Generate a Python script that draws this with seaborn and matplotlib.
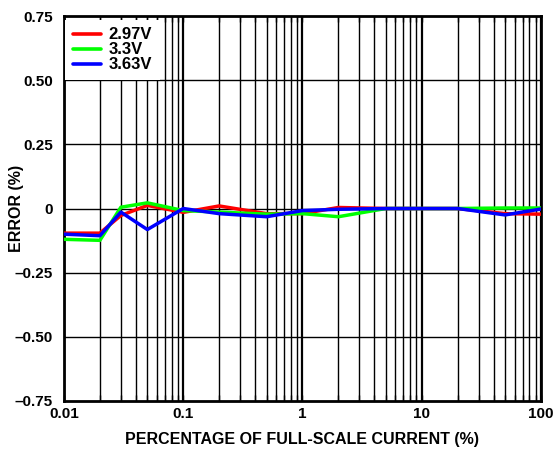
import numpy as np
import pandas as pd
import seaborn as sns
import matplotlib
matplotlib.use("Agg")
import matplotlib.pyplot as plt
from matplotlib.ticker import FixedLocator, NullFormatter, LogLocator

current = [0.01, 0.02, 0.03, 0.05, 0.1, 0.2, 0.5, 1, 2, 5, 10, 20, 50, 100]
err_297 = [-0.096, -0.096, -0.027, 0.012, -0.015, 0.010, -0.020, -0.020, 0.004, 0.0, 0.0, 0.0, -0.020, -0.022]
err_33 = [-0.120, -0.124, 0.005, 0.022, -0.008, -0.014, -0.022, -0.020, -0.032, 0.0, 0.0, 0.0, 0.002, 0.002]
err_363 = [-0.100, -0.106, -0.014, -0.082, 0.0, -0.020, -0.032, -0.008, -0.003, 0.0, 0.0, 0.0, -0.025, -0.002]
series = ["2.97V", "3.3V", "3.63V"]
colors = ["#ff0000", "#00ff00", "#0000ff"]
xticks = [0.01, 0.1, 1, 10, 100]
xticklabels = ["0.01", "0.1", "1", "10", "100"]
yticks = [-0.75, -0.5, -0.25, 0, 0.25, 0.5, 0.75]
yticklabels = ["\u20130.75", "\u20130.50", "\u20130.25", "0", "0.25", "0.50", "0.75"]

df = pd.DataFrame({
    "current": current * 3,
    "error": err_297 + err_33 + err_363,
    "series": [series[0]] * len(current) + [series[1]] * len(current) + [series[2]] * len(current),
})

sns.set_theme(style="white")
plt.rcParams["font.family"] = ["Liberation Sans", "DejaVu Sans"]
plt.rcParams["font.weight"] = "bold"
plt.rcParams["axes.labelweight"] = "bold"
for k in ["text.color", "axes.labelcolor", "xtick.color", "ytick.color"]:
    plt.rcParams[k] = "black"

fig, ax = plt.subplots(figsize=(5.54, 4.5), dpi=100)
fig.subplots_adjust(left=0.1155, right=0.9765, top=0.9644, bottom=0.1089)

ax.set_xscale("log")
ax.set_xlim(0.01, 100)
ax.set_ylim(-0.75, 0.75)

minor = [m * 10.0 ** e for e in range(-2, 2) for m in range(2, 10)]
for v in xticks:
    ax.axvline(v, color="black", lw=1.6, zorder=1)
for v in minor:
    ax.axvline(v, color="black", lw=1.0, zorder=1)
for v in yticks[1:-1]:
    ax.axhline(v, color="black", lw=1.0, zorder=1)

sns.lineplot(data=df, x="current", y="error", hue="series", palette=colors,
             hue_order=series, lw=2.5, ax=ax, legend=True, zorder=3, sort=False)

tfont = {"family": "Liberation Sans", "weight": "bold", "size": 11, "color": "black"}
lfont = {"family": "Liberation Sans", "weight": "bold", "size": 11.5, "color": "black"}
ax.xaxis.set_major_locator(FixedLocator(xticks))
ax.xaxis.set_minor_locator(FixedLocator(minor))
ax.set_xticklabels(xticklabels, fontdict=tfont)
ax.xaxis.set_minor_formatter(NullFormatter())
ax.set_yticks(yticks)
ax.set_yticklabels(yticklabels, fontdict=tfont)
ax.tick_params(axis="x", which="both", direction="in", top=True, bottom=True,
               length=4, width=1, pad=4)
ax.tick_params(axis="y", length=0, pad=8)
ax.set_xlabel("PERCENTAGE OF FULL-SCALE CURRENT (%)", fontdict=lfont, labelpad=8)
ax.set_ylabel("ERROR (%)", fontdict=lfont)
ax.yaxis.set_label_coords(-0.084, 0.5)

for s in ax.spines.values():
    s.set_color("black")
    s.set_linewidth(2)

leg = ax.legend(loc="upper left", frameon=True, fancybox=False, handlelength=1.7,
                labelspacing=0.0, borderaxespad=0.0, handletextpad=0.45,
                borderpad=0.45, bbox_to_anchor=(0.003, 0.99),
                prop={"family": "Liberation Sans", "weight": "bold", "size": 12})
leg.get_frame().set_facecolor("white")
leg.get_frame().set_edgecolor("none")
leg.get_frame().set_alpha(1.0)
for line in leg.get_lines():
    line.set_linewidth(2.6)
for t in leg.get_texts():
    t.set_color("black")

fig.savefig("out.png", dpi=100, facecolor="white")
